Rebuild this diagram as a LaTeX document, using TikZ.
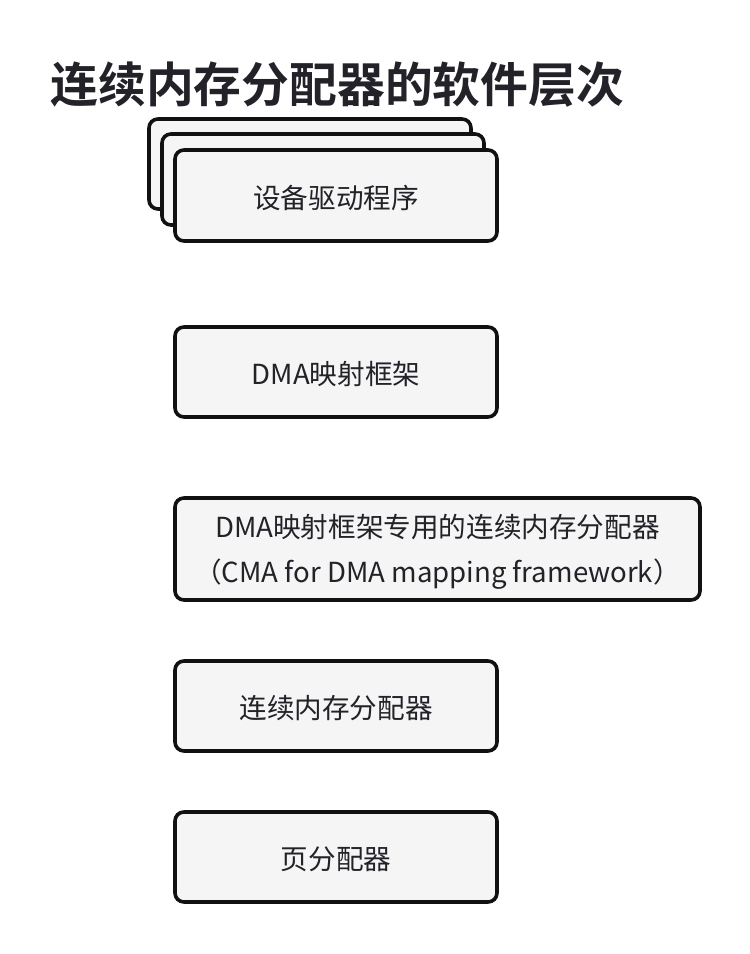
\documentclass[tikz,border=0pt]{standalone}
\usepackage{fontspec}
\setmainfont{Noto Sans CJK SC}
\newfontfamily\cjkbold{Noto Sans CJK SC Bold}
\definecolor{boxfill}{HTML}{F5F5F5}
\definecolor{boxline}{HTML}{111111}
\definecolor{txt}{HTML}{222228}
\begin{document}
\begin{tikzpicture}[x=1pt,y=-1pt,
  layerbox/.style={draw=boxline,fill=boxfill,line width=3.6pt,rounded corners=9pt},
  boxtext/.style={font=\fontsize{27.6}{45}\selectfont,text=txt,align=center}]
\useasboundingbox (0,0) rectangle (750,954);
\node[anchor=base west,font=\cjkbold\fontsize{47.8}{50}\selectfont,text=txt] (title) at (47,102) {连续内存分配器的软件层次};
% stacked driver boxes
\draw[layerbox] (149,119) rectangle (471,209);
\draw[layerbox] (162,134) rectangle (484,225);
\node[layerbox,minimum width=322pt,minimum height=91pt,inner sep=0pt] (drv) at (336,195.5) {};
\node[boxtext] (drvt) at ([yshift=-2pt]drv.center) {设备驱动程序};
\node[layerbox,minimum width=322pt,minimum height=90pt,inner sep=0pt] (dma) at (336,372) {};
\node[boxtext] (dmat) at ([yshift=-2pt]dma.center) {DMA映射框架};
\node[layerbox,minimum width=525pt,minimum height=102pt,inner sep=0pt] (cmadma) at (437.5,549) {};
\node[boxtext] (cmadmat) at ([yshift=-3pt]cmadma.center) {DMA映射框架专用的连续内存分配器\\（CMA for DMA mapping framework）};
\node[layerbox,minimum width=322pt,minimum height=90pt,inner sep=0pt] (cma) at (336,706) {};
\node[boxtext] (cmat) at ([yshift=-2pt]cma.center) {连续内存分配器};
\node[layerbox,minimum width=322pt,minimum height=90pt,inner sep=0pt] (page) at (336,857) {};
\node[boxtext] (paget) at ([yshift=-2pt]page.center) {页分配器};
\end{tikzpicture}
\end{document}
